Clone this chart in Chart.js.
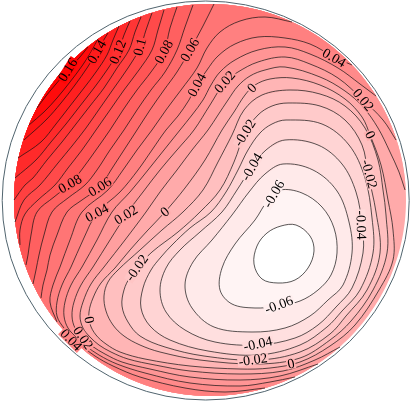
<!DOCTYPE html>
<html>
<head>
<meta charset="utf-8">
<style>
  html, body { margin: 0; padding: 0; background: #fff; }
  #wrap { width: 412px; height: 401px; }
</style>
<script src="https://cdn.jsdelivr.net/npm/chart.js@4.4.1/dist/chart.umd.min.js"></script>
</head>
<body>
<div id="wrap"><canvas id="contour" width="412" height="401"></canvas></div>
<script>
// pupil radius, same units as the contour coordinates below
const pupilRadius = 9.8;

// closed contours around the minimum (level -> [x, y] points)
const loopLevels = [-0.07, -0.06, -0.05, -0.04, -0.03, -0.02, -0.01, 0];
const loopM07 = [[4.3,-1.25],[5,-1.8],[5.2,-2.55],[4.9,-3.4],[4.25,-4],[3.4,-4.15],[2.6,-3.95],[2.2,-3.2],[2.35,-2.3],[2.85,-1.65],[3.55,-1.3]];
const loopM06 = [[3.5,0.5],[4.6,0.35],[5.6,-0.35],[6.2,-1.4],[6.35,-2.65],[6.05,-3.75],[5.4,-4.5],[4.5,-5.05],[3.4,-5.3],[2.25,-5.4],[1.1,-5.2],[0.5,-4.5],[0.6,-3.4],[1.25,-2.2],[2.25,-1],[2.9,0]];
const loopM05 = [[3.65,1.8],[5.15,1.5],[6.35,0.45],[6.95,-1.1],[7.1,-2.65],[6.65,-4.25],[5.9,-5],[5,-5.8],[3.75,-6.4],[2.1,-6.6],[0.2,-6.35],[-0.9,-5.4],[-1.25,-4.25],[-0.85,-3.1],[0.1,-2],[1.1,-0.75],[1.95,0.4],[2.75,1.3]];
const loopM04 = [[3.75,3],[5.4,2.75],[6.6,1.8],[7.3,0.4],[7.6,-1.25],[7.65,-2.65],[7.1,-4.4],[6.3,-5.35],[5.4,-6.25],[4.25,-6.9],[2.4,-7.25],[0.25,-7.1],[-1.25,-6.5],[-2.2,-5.6],[-2.5,-4.5],[-2.2,-3.4],[-1.5,-2.5],[-0.5,-1.6],[0.6,-0.6],[1.35,0.5],[2.1,1.65],[2.8,2.5]];
const loopM03 = [[3.8,4],[5.6,3.8],[6.95,2.75],[7.75,1.1],[8.1,-0.9],[8.15,-2.65],[7.5,-4.5],[6.6,-5.55],[5.85,-6.35],[4.5,-7.25],[2.4,-7.75],[-0.1,-7.55],[-2,-7],[-3,-6.3],[-3.45,-5.4],[-3.35,-4.4],[-2.95,-3.5],[-2.45,-2.85],[-1.9,-2.25],[-1,-1.4],[0.05,-0.6],[0.8,0.4],[1.4,1.5],[1.9,2.5],[2.5,3.35],[3.1,3.8]];
const loopM02 = [[3.9,4.85],[5.5,4.7],[6.75,4],[7.6,2.75],[7.9,1.3],[8.3,-0.6],[8.5,-2.65],[7.85,-4.5],[6.8,-5.8],[6,-6.7],[4.5,-7.6],[2.4,-8],[-0.3,-7.8],[-2.25,-7.35],[-3.5,-6.8],[-4.1,-6.1],[-4.4,-5.3],[-4.3,-4.5],[-4,-3.85],[-3.65,-3.4],[-2.9,-2.6],[-1.6,-1.6],[-0.5,-0.6],[0.5,0.5],[1.2,1.9],[1.75,3.35],[2.4,4.25],[3.1,4.7]];
const loopM01 = [[4,5.5],[5.5,5.3],[6.75,4.7],[7.75,3.6],[8.4,2],[8.65,0.5],[8.8,-0.75],[8.85,-2.65],[8.15,-4.5],[7.05,-6.05],[6,-7],[4.5,-7.9],[2.4,-8.2],[-0.5,-8],[-2.5,-7.6],[-3.5,-7.25],[-4.3,-6.8],[-4.85,-6.25],[-5.2,-5.55],[-5.3,-4.8],[-5.1,-4.1],[-4.6,-3.5],[-3.5,-2.5],[-2.4,-1.5],[-1.35,-0.6],[-0.35,0.5],[0.4,1.9],[1.1,3.25],[1.7,4.5],[2.6,5.25]];
const loop00 = [[4.1,6.1],[5.5,5.75],[6.75,5.05],[7.6,4.15],[8,3.25],[8.55,1.75],[8.9,0],[9.15,-1.5],[9.15,-3],[8.45,-4.5],[7.25,-6.25],[6,-7.3],[4.5,-8.1],[3,-8.4],[1.5,-8.45],[-1,-8.3],[-3.25,-7.95],[-4.5,-7.6],[-5.2,-7.2],[-5.7,-6.75],[-6,-6.2],[-6.05,-5.6],[-5.85,-4.9],[-5.45,-4.15],[-4.75,-3.4],[-4,-2.5],[-3.1,-1.5],[-2.25,-0.6],[-1.25,0.6],[-0.25,2],[0.6,3.5],[1.2,4.4],[1.75,5.25],[2.25,5.75],[3,6.05]];

// contours that end on the pupil edge
const openLevels = [0.01, 0.02, 0.03, 0.04, 0.05, 0.06, 0.07, 0.08, 0.09, 0.1, 0.11, 0.12, 0.13, 0.14, 0.15, 0.16];
const openP01 = [[9.75,0.5],[9.45,1.4],[9,2.4],[8.4,3.6],[7.65,4.65],[6.75,5.45],[5.5,6.15],[3.75,6.65],[2.75,6.5],[2,6.2],[1.4,5.7],[0.9,5],[0.4,4.25],[-0.1,3.5],[-0.9,2.5],[-1.65,1.5],[-2.5,0.4],[-3.2,-0.6],[-4.25,-2],[-5.3,-3.35],[-5.95,-4.2],[-6.35,-5.1],[-6.5,-5.8],[-6.35,-6.4],[-6,-6.85],[-5.55,-7.25],[-4.95,-7.6],[-4.1,-7.95],[-2.75,-8.25],[-1,-8.55],[1.5,-8.7],[3.65,-8.55],[5.25,-8],[6.5,-7.35]];
const openP02 = [[9.3,3],[8.65,4],[7.65,5],[6.4,6.1],[5,6.8],[3.75,7.15],[2.4,6.9],[1.4,6.4],[0.75,5.9],[0,4.75],[-0.8,3.5],[-1.65,2.5],[-2.5,1.5],[-3.35,0.4],[-4.1,-0.6],[-5,-2],[-5.85,-3.35],[-6.45,-4.25],[-6.8,-5.1],[-6.9,-5.8],[-6.75,-6.4],[-6.35,-6.9],[-5.9,-7.3],[-5.25,-7.7],[-4.4,-8.1],[-3,-8.45],[-1,-8.85],[1.5,-9],[3.5,-8.8],[5.4,-8.2]];
const openP03 = [[8.3,5.2],[7.5,5.8],[6.4,6.6],[5,7.3],[3.75,7.65],[2.4,7.5],[1.25,7],[0.5,6.4],[0.05,5.75],[-0.35,5],[-0.9,4.25],[-1.5,3.5],[-2.3,2.5],[-3.1,1.5],[-4,0.4],[-4.9,-0.6],[-5.65,-2],[-6.4,-3.35],[-6.95,-4.25],[-7.25,-5.1],[-7.3,-5.8],[-7.1,-6.4],[-6.65,-6.9],[-6.2,-7.3],[-5.55,-7.75],[-4.65,-8.2],[-3.25,-8.65],[-1,-9.15],[1.5,-9.3],[3,-9.1],[4.25,-8.85]];
const openP04 = [[7.1,6.75],[6.2,7.15],[5,7.8],[3.75,8.1],[2.4,8.15],[1.25,7.8],[0.4,7.2],[-0.15,6.5],[-0.65,5.75],[-1.05,5],[-1.6,4.2],[-2.2,3.5],[-2.9,2.5],[-3.6,1.5],[-4.5,0.4],[-5.65,-0.65],[-6.35,-2],[-6.95,-3.35],[-7.4,-4.25],[-7.65,-5.1],[-7.65,-5.8],[-7.3,-6.4],[-6.8,-6.9],[-6.4,-7.3],[-5.75,-7.8],[-4.85,-8.3],[-3.5,-8.85],[-1.25,-9.4],[0.75,-9.6],[2.75,-9.4]];
const openP05 = [[4.1,8.9],[2.75,9.15],[1.5,8.95],[0.5,8.4],[-0.15,7.6],[-0.65,6.6],[-1.45,5.5],[-2.2,4.5],[-2.9,3.5],[-3.65,2.5],[-4.35,1.5],[-5.1,0.5],[-6.4,-0.6],[-7,-2],[-7.5,-3.35],[-7.85,-4.25],[-8,-5.1],[-7.65,-6.1]];
const openP06 = [[0.2,9.8],[-0.35,8.7],[-1,7.5],[-1.65,6.4],[-2.3,5.5],[-3,4.5],[-3.65,3.5],[-4.3,2.5],[-4.95,1.5],[-5.5,0.65],[-6.4,0],[-7.15,-0.6],[-7.65,-1.75],[-8,-2.75],[-8.15,-3.5],[-8.35,-4.25],[-8.45,-4.9]];
const openP07 = [[-0.85,9.75],[-1.25,8.65],[-1.65,7.5],[-2.25,6.4],[-2.95,5.5],[-3.65,4.5],[-4.3,3.5],[-5,2.5],[-5.65,1.5],[-6.25,0.75],[-7.1,0.1],[-7.9,-0.6],[-8.3,-1.75],[-8.55,-2.75],[-8.7,-3.5],[-8.85,-4.2]];
const openP08 = [[-1.65,9.65],[-2,8.6],[-2.3,7.4],[-2.95,6.4],[-3.65,5.5],[-4.35,4.5],[-5,3.5],[-5.7,2.5],[-6.35,1.6],[-7,0.8],[-7.8,0.15],[-8.65,-0.6],[-8.95,-1.75],[-9.1,-2.75],[-9.2,-3.25]];
const openP09 = [[-2.3,9.5],[-2.6,8.5],[-2.9,7.5],[-3.55,6.5],[-4.3,5.5],[-5,4.5],[-5.7,3.5],[-6.4,2.5],[-7.1,1.6],[-7.75,0.75],[-8.6,0],[-9.25,-0.7],[-9.5,-1.5],[-9.5,-2.25]];
const openP10 = [[-2.9,9.35],[-3.2,8.5],[-3.5,7.6],[-4.1,6.6],[-4.8,5.6],[-5.5,4.6],[-6.2,3.6],[-6.9,2.7],[-7.6,1.85],[-8.5,0.75],[-9.3,0],[-9.75,-1.1]];
const openP11 = [[-3.45,9.15],[-3.75,8.4],[-4.05,7.5],[-4.65,6.6],[-5.3,5.6],[-6,4.7],[-6.7,3.8],[-7.4,2.9],[-8.15,2],[-8.85,1.1],[-9.25,0.75],[-9.8,0]];
const openP12 = [[-4,8.95],[-4.3,8.25],[-4.6,7.4],[-5.15,6.5],[-5.8,5.6],[-6.5,4.7],[-7.2,3.8],[-7.95,2.9],[-8.7,2],[-9.75,1.1]];
const openP13 = [[-4.55,8.7],[-4.85,8],[-5.15,7.25],[-5.7,6.4],[-6.3,5.6],[-7,4.7],[-7.7,3.8],[-8.45,2.9],[-9.6,2.1]];
const openP14 = [[-5.1,8.35],[-5.4,7.85],[-5.65,7.4],[-6.15,6.6],[-6.75,5.75],[-7.45,4.85],[-8.2,4],[-9.3,3]];
const openP15 = [[-5.6,8.05],[-5.95,7.4],[-6.4,6.7],[-7,5.9],[-7.65,5.1],[-8.3,4.4],[-9.05,3.75]];
const openP16 = [[-6.1,7.65],[-6.5,7.15],[-7.1,6.5],[-7.7,5.8],[-8.2,5.2],[-8.65,4.6]];

// inline contour labels: text, anchor on the contour, reading angle (deg)
const labelText  = ['0.16','0.14','0.12','0.1','0.08','0.06','0.04','0.02','0','0.04','0.02','0','-0.02','-0.04','-0.06','-0.04','-0.02','-0.06','-0.04','-0.02','0','0.08','0.06','0.04','0.02','0','-0.02','0','0.02','0.04'];
const labelX     = [-7.1,-5.65,-4.6,-3.5,-2.3,-1,-0.65,0.75,2.1,6.2,7.65,8,7.95,7.55,3.2,2.1,1.75,3.45,2.4,2.15,4.05,-7,-5.5,-5.65,-4.2,-2.25,-3.65,-6.05,-6.35,-6.95];
const labelY     = [6.5,7.4,7.4,7.65,7.4,7.5,5.75,5.9,5.6,7.1,5,3.25,1.3,-1.25,0.3,1.65,3.35,-5.25,-7.2,-8,-8.2,0.8,0.65,-0.65,-0.75,-0.6,-3.4,-6,-6.9,-7];
const labelAngle = [-58,-60,-68,-75,-62,-60,-62,-50,-45,30,50,65,75,88,-60,-60,-58,-20,-12,-8,-12,-30,-32,-28,-32,-40,-55,80,55,45];

const loops = [loopM07, loopM06, loopM05, loopM04, loopM03, loopM02, loopM01, loop00];
const opens = [openP01, openP02, openP03, openP04, openP05, openP06, openP07, openP08, openP09, openP10, openP11, openP12, openP13, openP14, openP15, openP16];

// white at the minimum, red at the maximum
const colorMin = -0.075, colorMax = 0.165;
function bandColor(v) {
  const t = Math.min(1, Math.max(0, (v - colorMin) / (colorMax - colorMin)));
  const g = Math.round(255 * (1 - t));
  return 'rgb(255,' + g + ',' + g + ')';
}

const toXY = arr => arr.map(p => ({x: p[0], y: p[1]}));

function arcPoints(a0, a1, r) {
  const n = Math.max(2, Math.ceil(Math.abs(a1 - a0) / (Math.PI / 90)));
  const out = [];
  for (let i = 0; i <= n; i++) {
    const a = a0 + (a1 - a0) * i / n;
    out.push({x: r * Math.cos(a), y: r * Math.sin(a)});
  }
  return out;
}

// region on the high side of an open contour: contour + edge arc back to its start
function highSide(arr) {
  const first = arr[0], last = arr[arr.length - 1];
  const a0 = Math.atan2(first[1], first[0]);
  let a1 = Math.atan2(last[1], last[0]);
  while (a1 <= a0) a1 += 2 * Math.PI;
  return toXY(arr).concat(arcPoints(a1, a0, pupilRadius));
}

function fillSet(points, color) {
  return {data: points, fill: 'shape', backgroundColor: color, borderColor: 'rgba(0,0,0,0)',
          borderWidth: 0, tension: 0.35, pointRadius: 0};
}
function lineSet(points, hideEnds) {
  const n = points.length;
  return {data: points, fill: false, borderColor: '#111', borderWidth: 0.7,
          tension: 0.35, pointRadius: 0,
          segment: hideEnds ? {borderColor: c => (c.p0DataIndex === 0 || c.p1DataIndex === n - 1) ? 'rgba(0,0,0,0)' : undefined} : undefined};
}
// closed loop: pad with neighbours so the spline closes smoothly, pads are hidden
const closedPath = arr => toXY([arr[arr.length - 1]].concat(arr, [arr[0], arr[1]]));

// paint order, bottom first
const paint = [];
paint.push(fillSet(arcPoints(0, 2 * Math.PI, pupilRadius), bandColor(0.005)));
opens.forEach((arr, i) => paint.push(fillSet(highSide(arr), bandColor(openLevels[i] + 0.005))));
for (let i = loops.length - 1; i >= 0; i--) {
  paint.push(fillSet(toXY(loops[i]), bandColor(loopLevels[i] - 0.005)));
}
loops.forEach(arr => paint.push(lineSet(closedPath(arr), true)));
opens.forEach(arr => paint.push(lineSet(toXY(arr), false)));

// thin frame circle around the pupil
const frameCenter = [-0.215, -0.025], frameRadii = [10.175, 9.975];
const framePlugin = {
  id: 'frame',
  afterDatasetsDraw(chart) {
    const {ctx, scales: {x, y}} = chart;
    ctx.save();
    ctx.beginPath();
    ctx.ellipse(x.getPixelForValue(frameCenter[0]), y.getPixelForValue(frameCenter[1]),
      Math.abs(x.getPixelForValue(frameRadii[0]) - x.getPixelForValue(0)),
      Math.abs(y.getPixelForValue(frameRadii[1]) - y.getPixelForValue(0)), 0, 0, 2 * Math.PI);
    ctx.strokeStyle = '#50646e';
    ctx.lineWidth = 1;
    ctx.stroke();
    ctx.restore();
  }
};

const labelPlugin = {
  id: 'contourLabels',
  afterDatasetsDraw(chart) {
    const {ctx, scales: {x, y}} = chart;
    ctx.save();
    ctx.font = '14px "Liberation Serif", "DejaVu Serif", serif';
    ctx.textAlign = 'center';
    ctx.textBaseline = 'middle';
    labelText.forEach((txt, i) => {
      ctx.save();
      ctx.translate(x.getPixelForValue(labelX[i]), y.getPixelForValue(labelY[i]));
      ctx.rotate(labelAngle[i] * Math.PI / 180);
      const w = ctx.measureText(txt).width;
      ctx.fillStyle = bandColor(parseFloat(txt));
      ctx.fillRect(-w / 2 - 1, -5, w + 2, 10);
      ctx.fillStyle = '#000';
      ctx.fillText(txt, 0, 0.5);
      ctx.restore();
    });
    ctx.restore();
  }
};

new Chart(document.getElementById('contour'), {
  type: 'line',
  data: {datasets: paint.slice().reverse()},
  options: {
    responsive: false,
    animation: false,
    events: [],
    layout: {padding: 0},
    plugins: {legend: {display: false}, tooltip: {enabled: false}},
    scales: {
      x: {type: 'linear', min: -10.5, max: 10.1, display: false},
      y: {type: 'linear', min: -10.05, max: 10, display: false}
    }
  },
  plugins: [framePlugin, labelPlugin]
});
</script>
</body>
</html>
